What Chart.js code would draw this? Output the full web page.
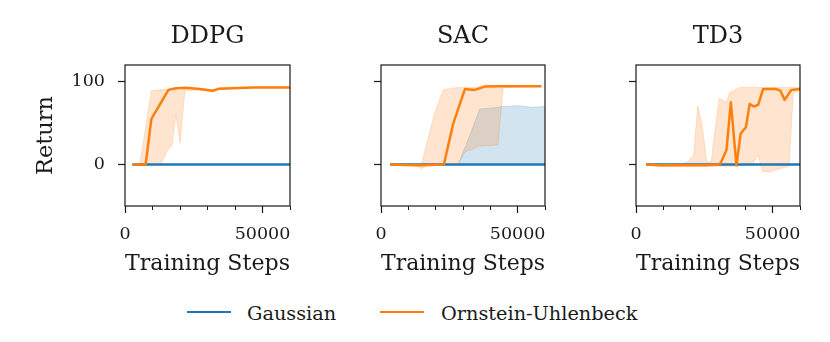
<!DOCTYPE html>
<html>
<head>
<meta charset="utf-8">
<script src="https://cdn.jsdelivr.net/npm/chart.js@4.4.1/dist/chart.umd.min.js"></script>
<style>
html, body { margin: 0; padding: 0; background: #fff; }
#wrap { position: relative; width: 830px; height: 342px; overflow: hidden; background: #fff; }
canvas { position: absolute; top: 0; }
.legtxt { position: absolute; font-family: 'DejaVu Serif', serif; font-size: 19.3px; line-height: 19.3px; color: #1a1a1a; white-space: nowrap; }
.sw { position: absolute; width: 44px; height: 0; border-top: 2.4px solid; }
</style>
</head>
<body>
<div id="wrap">
  <canvas id="c0" width="310" height="286" style="left:0px"></canvas>
  <canvas id="c1" width="265" height="286" style="left:300px"></canvas>
  <canvas id="c2" width="265" height="286" style="left:555px"></canvas>
  <div class="sw" style="left:187px; top:311.3px; border-color:#1f77b4"></div>
  <div class="legtxt" id="lg0" style="left:247px; top:303.7px"></div>
  <div class="sw" style="left:380px; top:311.3px; border-color:#ff7f0e"></div>
  <div class="legtxt" id="lg1" style="left:441px; top:303.7px"></div>
</div>
<script>
// ---- labels / ticks ----
const panelTitles = ['DDPG', 'SAC', 'TD3'];
const seriesNames = ['Gaussian', 'Ornstein-Uhlenbeck'];
const xTitle = 'Training Steps';
const yTitle = 'Return';
const xMajorTicks = [0, 50000];
const xMinorTicks = [0, 10000, 20000, 30000, 40000, 50000, 60000];
const yTicks = [0, 100];

// ---- data: [training step, return] ----
// DDPG
const ddpgOuMean  = [[2700,0],[7500,0],[9600,55],[15800,90],[18500,92],[22100,92.5],[27000,91],[31900,89],[34300,91.5],[39200,92],[46500,93],[60000,93]];
const ddpgOuUpper = [[2700,0],[5400,0],[9600,89],[15800,91],[22100,93],[27000,92],[31900,90],[34300,92.5],[39200,93],[46500,93.5],[60000,93.5]];
const ddpgOuLower = [[2700,0],[13000,0],[15800,19],[17000,22],[18500,61],[20000,26],[21800,89],[27000,90],[31900,88],[34300,90.5],[39200,91.5],[46500,92.5],[60000,92.5]];
const ddpgGaMean  = [[2700,0],[60000,0]];
const ddpgGaUpper = [[2700,0],[60000,0]];
const ddpgGaLower = [[2700,0],[60000,0]];
// SAC
const sacOuMean  = [[3300,0],[12400,-0.8],[14800,-1],[23000,0],[26400,49],[30700,91],[34300,90],[38000,94],[44100,94.5],[58700,94.5]];
const sacOuUpper = [[3300,0],[14800,0],[19500,61],[22800,90],[27000,92.5],[30700,93],[34300,93],[38000,96],[44700,95],[58700,95]];
const sacOuLower = [[3300,0],[12400,-1],[14800,-5],[17000,-1],[28200,0],[30700,15.5],[33100,17.5],[35500,22],[42800,23.5],[44700,93],[58700,94]];
const sacGaMean  = [[3300,0],[60000,0]];
const sacGaUpper = [[3300,0],[28200,0],[31900,30],[36100,67],[40500,68],[44700,70],[50000,71],[55000,69],[60000,70]];
const sacGaLower = [[3300,0],[60000,0]];
// TD3
const td3OuMean  = [[3650,0],[8760,-1],[16100,-1],[25800,-1],[30700,0],[33100,17.5],[34700,75],[36750,-1],[38300,37.5],[40200,45],[41600,73],[43100,70],[44700,72],[46500,91],[51350,91],[52800,89],[54400,78],[56800,90],[60000,91]];
const td3OuUpper = [[3650,0],[16100,0],[19000,3.5],[21100,11.5],[22600,71],[24200,47],[25900,3],[27500,3],[30400,80],[33100,75],[34300,87],[38000,93],[60000,93]];
const td3OuLower = [[3650,0],[8760,-2.5],[16100,-2],[25800,-2],[36750,-2],[42800,1.6],[44700,11.5],[46200,-8.4],[48900,-8.8],[51400,-6.4],[56000,-2],[57500,85],[60000,90]];
const td3GaMean  = [[3650,0],[60000,0]];
const td3GaUpper = [[3650,0],[60000,0]];
const td3GaLower = [[3650,0],[60000,0]];

// ---- styling ----
const BLUE = '#1f77b4', ORANGE = '#ff7f0e';
const BLUE_A = 'rgba(31,119,180,0.2)', ORANGE_A = 'rgba(255,127,14,0.2)';
const INK = '#1a1a1a';
const FONT = "'DejaVu Serif', serif";

document.getElementById('lg0').textContent = seriesNames[0];
document.getElementById('lg1').textContent = seriesNames[1];

const spines = {
  id: 'spines',
  afterDraw(chart) {
    const { ctx, chartArea: a } = chart;
    ctx.save();
    ctx.strokeStyle = INK;
    ctx.lineWidth = 1.2;
    ctx.strokeRect(a.left, a.top, a.right - a.left, a.bottom - a.top);
    ctx.restore();
  }
};

function lineDs(label, data, color, width, fill, bg) {
  return {
    label, data, borderColor: color, borderWidth: width,
    backgroundColor: bg || color, fill: fill,
    pointRadius: 0, pointHoverRadius: 0, tension: 0,
    borderJoinStyle: 'round', borderCapStyle: 'butt'
  };
}

function makeChart(id, title, ou, ga, first, yWidth, padRight) {
  const datasets = [
    lineDs(seriesNames[1], ou.mean, ORANGE, 2.5, false),
    lineDs(seriesNames[0], ga.mean, BLUE, 2.5, false),
    lineDs(seriesNames[1] + ' upper', ou.upper, ORANGE_A, 1, 3, ORANGE_A),
    lineDs(seriesNames[1] + ' lower', ou.lower, ORANGE_A, 1, false, ORANGE_A),
    lineDs(seriesNames[0] + ' upper', ga.upper, BLUE_A, 1, 5, BLUE_A),
    lineDs(seriesNames[0] + ' lower', ga.lower, BLUE_A, 1, false, BLUE_A)
  ];
  return new Chart(document.getElementById(id), {
    type: 'line',
    data: { datasets },
    plugins: [spines],
    options: {
      responsive: false, animation: false, devicePixelRatio: 1,
      layout: { padding: { left: 0, right: padRight, top: 0, bottom: 0 } },
      plugins: {
        legend: { display: false },
        tooltip: { enabled: false },
        title: {
          display: true, text: title, fullSize: false, color: INK,
          font: { family: FONT, size: 24, weight: 'normal', lineHeight: 1.2 },
          padding: { top: 22, bottom: 14.2 }
        }
      },
      scales: {
        x: {
          type: 'linear', position: 'bottom', min: 0, max: 60000, weight: 1,
          afterBuildTicks: s => { s.ticks = xMajorTicks.map(v => ({ value: v })); },
          afterFit: s => { s.height = 80; },
          grid: { display: true, drawOnChartArea: false, drawTicks: true, tickLength: 7, tickWidth: 1.2, tickColor: INK },
          border: { display: false },
          ticks: { color: INK, padding: 11, maxRotation: 0, autoSkip: false,
                   font: { family: FONT, size: 17.5 }, callback: v => String(v) },
          title: { display: true, text: xTitle, color: INK,
                   font: { family: FONT, size: 22.5, lineHeight: 1.2 }, padding: { top: 0, bottom: 8.8 } }
        },
        xm: {
          type: 'linear', position: 'bottom', min: 0, max: 60000, weight: 0,
          afterBuildTicks: s => { s.ticks = xMinorTicks.map(v => ({ value: v })); },
          afterFit: s => { s.height = 0; },
          grid: { display: true, drawOnChartArea: false, drawTicks: true, tickLength: 4, tickWidth: 1, tickColor: INK },
          border: { display: false },
          ticks: { display: false }
        },
        y: {
          type: 'linear', position: 'left', min: -50, max: 120,
          afterBuildTicks: s => { s.ticks = yTicks.map(v => ({ value: v })); },
          afterFit: s => { s.width = yWidth; },
          grid: { display: true, drawOnChartArea: false, drawTicks: true, tickLength: 7, tickWidth: 1.2, tickColor: INK },
          border: { display: false },
          ticks: { display: first, color: INK, padding: 13,
                   font: { family: FONT, size: 17.5 }, callback: v => String(v) },
          title: { display: first, text: yTitle, color: INK,
                   font: { family: FONT, size: 22.5, lineHeight: 1.2 }, padding: { top: 32.5, bottom: 0 } }
        }
      }
    }
  });
}

makeChart('c0', panelTitles[0],
  { mean: ddpgOuMean, upper: ddpgOuUpper, lower: ddpgOuLower },
  { mean: ddpgGaMean, upper: ddpgGaUpper, lower: ddpgGaLower }, true, 125, 20);
makeChart('c1', panelTitles[1],
  { mean: sacOuMean, upper: sacOuUpper, lower: sacOuLower },
  { mean: sacGaMean, upper: sacGaUpper, lower: sacGaLower }, false, 81, 20);
makeChart('c2', panelTitles[2],
  { mean: td3OuMean, upper: td3OuUpper, lower: td3OuLower },
  { mean: td3GaMean, upper: td3GaUpper, lower: td3GaLower }, false, 81, 20);
</script>
</body>
</html>
